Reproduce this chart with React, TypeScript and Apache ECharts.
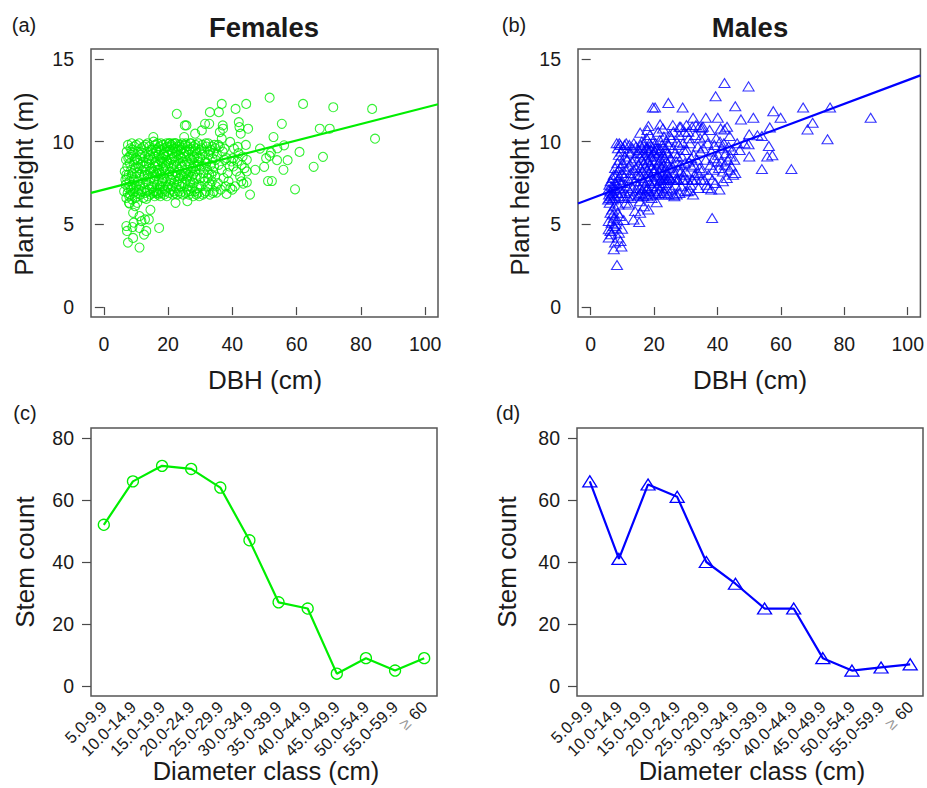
import { useEffect, useRef } from "react";
import * as echarts from "echarts";

const GREEN = "#00ee00";
const BLUE = "#0000ff";
const FONT = '"Liberation Sans", Arial, Helvetica, sans-serif';

const dbhTicks = [0, 20, 40, 60, 80, 100];
const heightTicks = [0, 5, 10, 15];
const countTicks = [0, 20, 40, 60, 80];

const diameterClasses = [
  "5.0-9.9", "10.0-14.9", "15.0-19.9", "20.0-24.9", "25.0-29.9", "30.0-34.9",
  "35.0-39.9", "40.0-44.9", "45.0-49.9", "50.0-54.9", "55.0-59.9", "≥ 60",
];
const femaleCounts = [52, 66, 71, 70, 64, 47, 27, 25, 4, 9, 5, 9];
const maleCounts = [66, 41, 65, 61, 40, 33, 25, 25, 9, 5, 6, 7];

// regression fits: [intercept, slope]
const femaleFit = [7.1, 0.0496];
const maleFit = [6.55, 0.0717];

// Females: DBH (cm), height (m)
const femalePoints: number[][] = [
  // outliers / sparse
  [51.6, 12.66], [62.0, 12.28], [71.4, 12.08], [83.5, 11.98], [84.4, 10.18], [67.2, 10.78], [70.3, 10.78],
  [68.2, 9.08], [65.3, 8.48], [59.5, 7.12], [60.9, 9.38], [55.4, 11.08], [52.8, 10.28], [56.1, 9.78],
  [48.6, 9.58], [51.6, 9.14], [52.0, 9.34], [53.9, 8.88], [57.2, 8.88], [55.9, 8.3], [49.9, 8.48],
  [47.1, 8.3], [51.1, 7.62], [52.3, 7.62], [45.5, 6.8], [50.5, 9.0], [54.0, 9.6],
  [44.3, 12.28], [41.0, 11.98], [36.7, 12.28], [33.0, 11.78], [35.8, 11.78], [22.7, 11.68], [32.8, 11.08],
  [31.5, 11.08], [30.5, 10.68], [28.4, 10.48], [25.7, 10.98], [25.2, 10.98], [25.0, 10.28], [15.4, 10.28],
  [37.0, 10.98], [36.1, 10.58], [37.1, 10.78], [42.0, 11.18], [42.2, 10.88], [44.9, 10.78], [42.6, 10.48],
  [36.7, 10.18], [39.3, 9.98], [37.5, 9.58], [40.5, 9.58], [41.7, 9.68],
  [17.2, 4.78], [11.1, 3.6], [7.5, 3.9], [9.1, 4.18], [7.2, 4.6], [7.0, 4.9], [12.5, 4.38], [13.2, 4.6],
  [11.1, 4.78], [11.7, 5.2], [14.0, 5.3], [12.8, 5.3], [14.5, 5.88], [9.1, 5.7], [8.0, 6.26], [9.7, 6.1],
  [10.4, 6.3], [13.2, 6.54], [9.3, 5.1], [8.9, 4.84], [11.1, 5.5], [22.3, 6.3], [26.0, 6.4], [35.1, 6.92],
  [38.2, 6.84], [43.4, 7.46], [44.5, 7.54], [40.0, 7.1], [42.4, 7.9], [44.5, 8.2], [42.9, 8.6], [44.5, 8.9],
  [40.3, 8.5], [41.6, 8.82],
  // 5-10
  [6.3, 7.0], [6.5, 8.2], [6.8, 7.4], [6.9, 8.9], [7.0, 6.6], [7.1, 9.4], [7.2, 7.8], [7.3, 8.5], [7.4, 6.9],
  [7.5, 9.8], [7.6, 7.2], [7.7, 8.0], [7.8, 6.3], [7.9, 9.1], [8.0, 7.6], [8.1, 8.7], [8.2, 6.8], [8.3, 9.6],
  [8.4, 7.1], [8.5, 8.3], [8.6, 7.9], [8.7, 9.9], [8.8, 6.5], [8.9, 8.1], [9.0, 7.4], [9.1, 9.3], [9.2, 6.9],
  [9.3, 8.6], [9.4, 7.7], [9.5, 9.7], [9.6, 7.0], [9.7, 8.4], [9.8, 6.6], [9.9, 9.0], [7.0, 8.0], [7.6, 9.0],
  [8.2, 7.3], [8.8, 9.5], [9.3, 7.2], [9.6, 8.9], [6.7, 7.7], [7.9, 6.7], [8.5, 9.2],
  // 10-15
  [10.0, 7.3], [10.1, 9.8], [10.2, 8.1], [10.3, 6.7], [10.4, 8.9], [10.5, 7.6], [10.6, 9.4], [10.7, 6.9],
  [10.8, 8.4], [10.9, 7.1], [11.0, 9.9], [11.1, 8.0], [11.2, 7.4], [11.3, 9.0], [11.4, 6.8], [11.5, 8.6],
  [11.6, 7.8], [11.7, 9.6], [11.8, 7.0], [11.9, 8.2], [12.0, 9.3], [12.1, 7.5], [12.2, 8.8], [12.3, 6.6],
  [12.4, 9.7], [12.5, 7.9], [12.6, 8.5], [12.7, 7.2], [12.8, 9.1], [12.9, 6.9], [13.0, 8.3], [13.1, 9.8],
  [13.2, 7.6], [13.3, 8.7], [13.4, 7.0], [13.5, 9.4], [13.6, 8.0], [13.7, 6.7], [13.8, 9.0], [13.9, 7.4],
  [14.0, 8.6], [14.1, 9.7], [14.2, 7.1], [14.3, 8.2], [14.4, 9.2], [14.5, 6.8], [14.6, 7.8], [14.7, 9.5],
  [14.8, 8.4], [14.9, 7.3], [10.5, 8.7], [11.4, 9.2], [12.7, 8.0], [13.6, 9.9], [14.2, 8.9],
  // 15-20
  [15.0, 8.9], [15.1, 7.2], [15.2, 9.6], [15.3, 6.9], [15.4, 8.2], [15.5, 10.0], [15.6, 7.6], [15.7, 9.1],
  [15.8, 6.7], [15.9, 8.5], [16.0, 9.8], [16.1, 7.9], [16.2, 8.8], [16.3, 7.0], [16.4, 9.4], [16.5, 8.1],
  [16.6, 7.4], [16.7, 9.9], [16.8, 6.8], [16.9, 8.6], [17.0, 9.2], [17.1, 7.7], [17.2, 8.3], [17.3, 9.7],
  [17.4, 7.1], [17.5, 8.9], [17.6, 6.7], [17.7, 9.5], [17.8, 8.0], [17.9, 7.5], [18.0, 9.0], [18.1, 6.9],
  [18.2, 8.7], [18.3, 9.8], [18.4, 7.3], [18.5, 8.4], [18.6, 9.3], [18.7, 7.8], [18.8, 6.8], [18.9, 9.6],
  [19.0, 8.2], [19.1, 7.0], [19.2, 9.1], [19.3, 8.6], [19.4, 7.6], [19.5, 9.9], [19.6, 6.7], [19.7, 8.8],
  [19.8, 7.3], [19.9, 9.4], [15.3, 9.3], [15.8, 8.0], [16.4, 6.9], [16.9, 9.6], [17.3, 8.1], [17.8, 9.9],
  [18.2, 7.6], [18.7, 9.2], [19.1, 8.5], [19.6, 9.7], [15.6, 7.0], [16.2, 9.5], [16.8, 8.3], [17.5, 7.3],
  [18.0, 8.8], [18.9, 7.1], [19.4, 8.9], [17.0, 6.9], [16.0, 8.7],
  // 20-25
  [20.0, 9.2], [20.1, 7.4], [20.2, 8.7], [20.3, 9.9], [20.4, 6.9], [20.5, 8.2], [20.6, 9.5], [20.7, 7.7],
  [20.8, 8.9], [20.9, 7.1], [21.0, 9.8], [21.1, 8.4], [21.2, 7.3], [21.3, 9.3], [21.4, 8.0], [21.5, 6.8],
  [21.6, 9.6], [21.7, 8.6], [21.8, 7.5], [21.9, 9.1], [22.0, 8.2], [22.1, 6.9], [22.2, 9.9], [22.3, 7.9],
  [22.4, 8.8], [22.5, 7.2], [22.6, 9.4], [22.7, 8.5], [22.8, 6.8], [22.9, 9.7], [23.0, 7.6], [23.1, 8.9],
  [23.2, 9.2], [23.3, 7.0], [23.4, 8.3], [23.5, 9.8], [23.6, 7.8], [23.7, 8.7], [23.8, 6.9], [23.9, 9.5],
  [24.0, 8.0], [24.1, 7.3], [24.2, 9.0], [24.3, 8.5], [24.4, 9.9], [24.5, 7.5], [24.6, 8.8], [24.7, 6.8],
  [24.8, 9.3], [24.9, 8.1], [20.3, 8.0], [20.8, 9.7], [21.2, 9.0], [21.7, 7.0], [22.1, 9.6], [22.6, 8.1],
  [23.0, 9.5], [23.4, 7.4], [23.9, 9.1], [24.4, 7.9], [21.0, 7.7], [22.4, 9.9], [23.7, 9.7], [24.2, 9.6],
  [20.5, 9.9], [21.5, 9.9],
  // 25-30
  [25.0, 9.1], [25.1, 7.5], [25.2, 8.6], [25.3, 9.8], [25.4, 6.9], [25.5, 8.1], [25.6, 9.4], [25.7, 7.7],
  [25.8, 8.8], [25.9, 7.1], [26.0, 9.7], [26.1, 8.3], [26.2, 7.3], [26.3, 9.2], [26.4, 8.0], [26.5, 6.8],
  [26.6, 9.5], [26.7, 8.6], [26.8, 7.6], [26.9, 9.0], [27.0, 8.2], [27.1, 7.0], [27.2, 9.9], [27.3, 7.9],
  [27.4, 8.9], [27.5, 7.2], [27.6, 9.4], [27.7, 8.4], [27.8, 6.7], [27.9, 9.7], [28.0, 7.5], [28.1, 8.7],
  [28.2, 9.1], [28.3, 7.0], [28.4, 8.2], [28.5, 9.8], [28.6, 7.8], [28.7, 8.5], [28.8, 6.8], [28.9, 9.3],
  [29.0, 8.0], [29.1, 7.2], [29.2, 9.0], [29.3, 8.6], [29.4, 9.9], [29.5, 7.4], [29.6, 8.8], [29.7, 6.7],
  [29.8, 9.5], [29.9, 8.3], [25.5, 9.9], [26.3, 7.0], [27.0, 9.6], [27.8, 8.0], [28.6, 9.6], [29.2, 6.9],
  [26.8, 9.9], [28.0, 9.0], [25.8, 7.9],
  // 30-35
  [30.0, 9.0], [30.2, 7.3], [30.4, 8.5], [30.6, 9.8], [30.8, 6.8], [31.0, 8.1], [31.2, 9.4], [31.4, 7.6],
  [31.6, 8.8], [31.8, 7.0], [32.0, 9.7], [32.2, 8.3], [32.4, 7.3], [32.6, 9.2], [32.8, 8.0], [33.0, 6.8],
  [33.2, 9.5], [33.4, 8.6], [33.6, 7.6], [33.8, 9.0], [34.0, 8.2], [34.2, 7.0], [34.4, 9.8], [34.6, 7.9],
  [34.8, 8.9], [30.1, 7.8], [30.7, 9.2], [31.3, 6.9], [31.9, 8.7], [32.5, 9.9], [33.1, 7.4], [33.7, 9.7],
  [34.3, 8.5], [34.9, 7.3], [30.4, 9.6], [31.1, 8.5], [31.7, 9.9], [32.3, 7.8], [32.9, 9.4], [33.5, 8.0],
  [34.1, 9.3], [34.7, 9.6], [33.9, 6.9],
  // 35-40
  [35.2, 9.2], [35.5, 7.5], [35.8, 8.6], [36.1, 9.7], [36.4, 7.1], [36.7, 8.3], [37.0, 9.4], [37.3, 7.8],
  [37.6, 8.9], [37.9, 7.3], [38.2, 9.0], [38.5, 8.1], [38.8, 7.6], [39.1, 8.5], [39.4, 7.2], [39.7, 8.8],
  [35.6, 9.8],
  // 40-45
  [40.2, 9.0], [40.8, 7.3], [41.3, 8.2], [41.9, 9.3], [42.8, 7.6], [43.2, 9.1], [43.8, 8.4], [44.2, 9.8],
];

// Males: DBH (cm), height (m)
const malePoints: number[][] = [
  // outliers / sparse
  [42.2, 13.54], [49.8, 13.34], [39.4, 12.74], [24.5, 12.34], [20.3, 12.06], [19.6, 12.06], [29.0, 12.06],
  [45.6, 12.14], [67.0, 12.06], [75.5, 12.06], [57.6, 11.84], [59.9, 11.44], [51.3, 11.44], [47.4, 11.34],
  [88.3, 11.44], [70.0, 11.14], [68.4, 10.74], [74.7, 10.14], [56.5, 10.86], [36.3, 11.44], [40.1, 11.44],
  [32.3, 11.44], [21.9, 11.04], [18.2, 10.94], [15.6, 10.54], [35.0, 10.84], [42.2, 10.74], [43.8, 10.34],
  [50.0, 10.44], [52.6, 10.38], [54.0, 10.34], [49.8, 9.84], [56.2, 9.74], [50.0, 9.1], [55.7, 9.1],
  [57.3, 9.18], [54.0, 8.34], [63.3, 8.34], [45.6, 8.1], [41.7, 7.6], [38.0, 7.1], [40.6, 7.1], [32.3, 6.8],
  [31.3, 7.06], [38.3, 5.38], [20.8, 6.34], [18.2, 5.9], [15.6, 5.7], [15.3, 5.14], [13.5, 5.3], [10.4, 5.26],
  [8.3, 2.54], [7.3, 3.5], [9.7, 3.66], [5.7, 4.2], [6.25, 4.6], [8.9, 4.5], [9.9, 4.74], [7.3, 4.9],
  [5.7, 5.2], [7.3, 5.4], [6.25, 5.7], [6.8, 5.9], [7.5, 6.1], [8.3, 5.3], [8.5, 5.7], [9.4, 4.0], [5.7, 4.7],
  [46.2, 9.9], [48.5, 9.9], [47.0, 9.5], [45.3, 8.9],
  // 5-10
  [6.5, 4.4], [7.8, 4.8], [8.0, 5.0], [7.0, 5.6], [8.7, 6.2], [6.0, 6.3], [7.7, 3.9], [8.6, 4.2], [9.2, 5.5],
  [6.6, 5.1], [5.5, 6.5], [5.6, 7.1], [5.8, 6.8], [5.9, 7.4], [6.0, 6.6], [6.2, 7.0], [6.3, 7.6], [6.5, 6.7],
  [6.6, 7.3], [6.8, 6.9], [6.9, 7.8], [7.0, 6.5], [7.1, 7.2], [7.3, 8.0], [7.4, 6.8], [7.6, 7.5], [7.7, 8.4],
  [7.9, 6.6], [8.0, 7.1], [8.1, 8.0], [8.2, 9.9], [8.3, 7.4], [8.4, 8.7], [8.5, 6.9], [8.6, 9.6], [8.7, 7.7],
  [8.8, 8.3], [8.9, 9.2], [9.0, 6.7], [9.1, 7.9], [9.2, 8.9], [9.3, 7.2], [9.4, 9.8], [9.5, 8.5], [9.6, 7.5],
  [9.7, 9.4], [9.8, 8.1], [9.9, 6.9], [9.0, 9.9],
  // 10-15
  [10.0, 7.5], [10.2, 8.7], [10.3, 9.6], [10.5, 6.6], [10.6, 7.9], [10.8, 9.1], [10.9, 6.9], [11.0, 8.3],
  [11.2, 9.9], [11.3, 7.3], [11.5, 8.9], [11.6, 6.7], [11.8, 9.4], [11.9, 7.7], [12.0, 8.5], [12.2, 9.8],
  [12.3, 7.0], [12.5, 8.1], [12.6, 9.3], [12.8, 6.6], [12.9, 7.8], [13.0, 8.8], [13.2, 9.6], [13.3, 7.2],
  [13.5, 8.3], [13.6, 9.9], [13.8, 6.8], [13.9, 7.6], [14.0, 9.0], [14.2, 8.4], [14.3, 9.7], [14.5, 7.1],
  [14.6, 8.0], [14.8, 9.3], [14.9, 6.7], [11.0, 6.3], [12.0, 6.2], [14.0, 5.8], [10.7, 9.8],
  // 15-20
  [15.0, 7.4], [15.1, 8.6], [15.2, 9.5], [15.3, 6.8], [15.4, 8.0], [15.5, 9.1], [15.6, 7.2], [15.7, 8.4],
  [15.8, 9.8], [15.9, 6.9], [16.0, 7.8], [16.1, 8.9], [16.2, 9.6], [16.3, 7.1], [16.4, 8.2], [16.5, 9.3],
  [16.6, 6.7], [16.7, 7.6], [16.8, 8.7], [16.9, 9.9], [17.0, 7.3], [17.1, 8.5], [17.2, 9.2], [17.3, 6.8],
  [17.4, 7.9], [17.5, 8.9], [17.6, 10.2], [17.7, 7.1], [17.8, 8.3], [17.9, 9.6], [18.0, 6.7], [18.1, 7.7],
  [18.2, 8.8], [18.3, 9.4], [18.4, 7.0], [18.5, 8.1], [18.6, 9.9], [18.7, 7.5], [18.8, 8.6], [18.9, 9.1],
  [19.0, 6.8], [19.1, 7.9], [19.2, 8.4], [19.3, 9.7], [19.4, 7.3], [19.5, 8.9], [19.6, 10.0], [19.7, 7.6],
  [19.8, 8.2], [19.9, 9.3], [15.5, 6.4], [16.8, 6.1], [17.9, 10.7], [18.7, 10.4], [19.2, 6.6], [16.1, 10.0],
  [17.4, 9.6], [19.0, 9.5], [18.0, 7.2],
  // 20-25
  [20.0, 7.0], [20.1, 8.3], [20.2, 9.4], [20.3, 7.6], [20.4, 8.8], [20.5, 9.9], [20.6, 6.8], [20.7, 7.9],
  [20.8, 9.1], [20.9, 8.4], [21.0, 7.3], [21.1, 9.6], [21.2, 8.0], [21.3, 6.9], [21.4, 8.7], [21.5, 9.3],
  [21.6, 7.5], [21.7, 8.2], [21.8, 10.1], [21.9, 7.1], [22.0, 8.9], [22.1, 9.5], [22.2, 7.7], [22.3, 8.5],
  [22.4, 6.8], [22.5, 9.8], [22.6, 7.4], [22.7, 8.1], [22.8, 9.2], [22.9, 7.0], [23.0, 8.6], [23.1, 10.3],
  [23.2, 7.8], [23.3, 9.0], [23.4, 6.9], [23.5, 8.3], [23.6, 9.6], [23.7, 7.5], [23.8, 8.8], [23.9, 10.0],
  [24.0, 7.2], [24.1, 8.0], [24.2, 9.3], [24.3, 7.7], [24.4, 8.7], [24.5, 6.8], [24.6, 9.8], [24.7, 7.9],
  [24.8, 8.4], [24.9, 10.4], [21.3, 10.6], [22.0, 7.7], [23.0, 7.7], [24.0, 7.7], [20.5, 9.6], [22.8, 10.8],
  [23.8, 9.4],
  // 25-30
  [25.0, 7.8], [25.2, 9.0], [25.4, 10.2], [25.6, 7.1], [25.8, 8.5], [26.0, 9.6], [26.2, 6.8], [26.4, 8.1],
  [26.6, 9.3], [26.8, 7.4], [27.0, 8.8], [27.2, 10.0], [27.4, 7.7], [27.6, 8.3], [27.8, 9.8], [28.0, 6.9],
  [28.2, 8.6], [28.4, 10.9], [28.6, 7.3], [28.8, 9.1], [29.0, 7.7], [29.2, 8.0], [29.4, 9.5], [29.6, 10.6],
  [29.8, 7.0], [25.5, 7.7], [26.1, 10.6], [26.7, 7.7], [27.3, 9.1], [27.9, 10.4], [28.5, 8.2], [29.1, 9.9],
  [29.7, 8.7], [26.4, 6.7], [27.1, 6.8], [25.9, 11.0], [28.0, 10.9], [27.5, 7.7], [29.3, 7.7],
  // 30-35
  [30.0, 8.2], [30.3, 9.5], [30.5, 7.7], [30.8, 10.6], [31.0, 8.8], [31.3, 9.9], [31.5, 7.4], [31.8, 8.5],
  [32.0, 10.9], [32.2, 7.7], [32.5, 9.2], [32.8, 8.0], [33.0, 10.4], [33.3, 7.7], [33.5, 8.9], [33.8, 9.7],
  [34.0, 7.2], [34.3, 8.4], [34.5, 10.2], [34.8, 7.7], [30.2, 11.0], [31.0, 10.2], [31.7, 9.0], [32.6, 8.6],
  [33.2, 11.0], [33.9, 8.1], [34.6, 9.4], [30.6, 7.0], [32.0, 7.7], [34.2, 10.9],
  // 35-40
  [35.2, 8.3], [35.5, 9.6], [35.8, 7.7], [36.0, 10.3], [36.3, 8.9], [36.6, 7.4], [36.9, 9.9], [37.2, 8.0],
  [37.5, 10.7], [37.8, 8.6], [38.1, 9.4], [38.4, 7.7], [38.7, 8.3], [39.0, 9.8], [39.3, 7.5], [39.6, 10.2],
  [39.9, 8.8], [35.4, 10.9], [37.0, 7.2], [38.8, 9.0],
  // 40-45
  [40.2, 9.2], [40.5, 8.4], [40.8, 10.0], [41.1, 8.8], [41.4, 9.6], [41.7, 8.2], [42.0, 9.9], [42.3, 8.6],
  [42.6, 9.3], [42.9, 7.8], [43.2, 8.9], [43.5, 9.7], [43.8, 8.3], [44.1, 9.1], [44.4, 8.5], [44.7, 9.5],
  [44.9, 8.0], [41.0, 10.8], [43.0, 10.9],
];

const DBH_MIN = -4;
const DBH_MAX = 104;

function fitLine(fit: number[]) {
  return [DBH_MIN, DBH_MAX].map((x) => [x, fit[0] + fit[1] * x]);
}

const TEXT = "#1a1a1a";
const AXIS = "#4a4a4a";
const TICK_FONT = 19.5;
const NAME_FONT = 26;

function gridBox(left: number, top: number, width: number, height: number) {
  return { left, top, width, height, show: true, borderColor: "#555", borderWidth: 1.5, backgroundColor: "transparent" };
}

function dbhAxis(gridIndex: number) {
  return {
    type: "value", gridIndex, min: DBH_MIN, max: DBH_MAX, offset: 2,
    axisLine: { show: false }, splitLine: { show: false },
    axisTick: { show: true, length: 8, customValues: dbhTicks, lineStyle: { color: AXIS, width: 1.2 } },
    axisLabel: { customValues: dbhTicks, margin: 15, fontSize: TICK_FONT, color: TEXT, fontFamily: FONT },
  };
}
function heightAxis(gridIndex: number) {
  return {
    type: "value", gridIndex, min: -0.6, max: 15.6,
    axisLine: { show: false }, splitLine: { show: false },
    axisTick: { show: true, length: 9, customValues: heightTicks, lineStyle: { color: AXIS, width: 1.2 } },
    axisLabel: { customValues: heightTicks, margin: 17, fontSize: TICK_FONT, color: TEXT, fontFamily: FONT },
  };
}
function classAxis(gridIndex: number) {
  const vals = diameterClasses.map((_, i) => i + 1);
  return {
    type: "value", gridIndex, min: 0.56, max: 12.44,
    axisLine: { show: false }, splitLine: { show: false },
    axisTick: { show: false },
    axisLabel: {
      customValues: vals, rotate: 45, margin: 8, fontSize: 16.5, color: TEXT, fontFamily: FONT,
      formatter: (v: number) => {
        const s = diameterClasses[Math.round(v) - 1] || "";
        return s.startsWith("≥") ? "{g|≥}" + s.slice(1) : s;
      },
      rich: { g: { color: "#999", fontSize: 16.5, fontFamily: FONT } },
    },
  };
}
function countAxis(gridIndex: number) {
  return {
    type: "value", gridIndex, min: -3.2, max: 83.2,
    axisLine: { show: false }, splitLine: { show: false },
    axisTick: { show: true, length: 9, customValues: countTicks, lineStyle: { color: AXIS, width: 1.2 } },
    axisLabel: { customValues: countTicks, margin: 17, fontSize: TICK_FONT, color: TEXT, fontFamily: FONT },
  };
}

function label(text: string, x: number, y: number, size: number, bold = false, rotate = 0) {
  return {
    type: "text", x, y, rotation: rotate,
    style: {
      text, fill: TEXT, font: `${bold ? "bold " : ""}${size}px ${FONT}`,
      align: "center", verticalAlign: "middle", textAlign: "center", textVerticalAlign: "middle",
    },
  };
}

const option = {
  animation: false,
  backgroundColor: "#fff",
  grid: [
    gridBox(91, 49, 347, 268),
    gridBox(578, 49, 345, 268),
    gridBox(91, 428, 346, 268),
    gridBox(577, 428, 346, 268),
  ],
  xAxis: [dbhAxis(0), dbhAxis(1), classAxis(2), classAxis(3)],
  yAxis: [heightAxis(0), heightAxis(1), countAxis(2), countAxis(3)],
  series: [
    {
      type: "scatter", xAxisIndex: 0, yAxisIndex: 0, data: femalePoints, symbol: "circle", symbolSize: 9,
      itemStyle: { color: "rgba(0,0,0,0)", borderColor: GREEN, borderWidth: 1.1 },
    },
    {
      type: "line", xAxisIndex: 0, yAxisIndex: 0, data: fitLine(femaleFit), showSymbol: false, clip: true,
      lineStyle: { color: GREEN, width: 2.2 },
    },
    {
      type: "scatter", xAxisIndex: 1, yAxisIndex: 1, data: malePoints, symbol: "triangle", symbolSize: [11, 9],
      itemStyle: { color: "rgba(0,0,0,0)", borderColor: BLUE, borderWidth: 1.1 },
    },
    {
      type: "line", xAxisIndex: 1, yAxisIndex: 1, data: fitLine(maleFit), showSymbol: false, clip: true,
      lineStyle: { color: BLUE, width: 2.2 },
    },
    {
      type: "line", xAxisIndex: 2, yAxisIndex: 2, data: femaleCounts.map((v, i) => [i + 1, v]),
      symbol: "circle", symbolSize: 11, showAllSymbol: true,
      lineStyle: { color: GREEN, width: 2.2 },
      itemStyle: { color: "rgba(0,0,0,0)", borderColor: GREEN, borderWidth: 1.3 },
    },
    {
      type: "line", xAxisIndex: 3, yAxisIndex: 3, data: maleCounts.map((v, i) => [i + 1, v]),
      symbol: "triangle", symbolSize: [14, 11], showAllSymbol: true,
      lineStyle: { color: BLUE, width: 2.2 },
      itemStyle: { color: "rgba(0,0,0,0)", borderColor: BLUE, borderWidth: 1.3 },
    },
  ],
  graphic: [
    label("(a)", 24, 25, 20),
    label("Females", 264, 27, 27.5, true),
    label("(b)", 514, 25, 20),
    label("Males", 750, 27, 27.5, true),
    label("Plant height (m)", 24, 184, NAME_FONT, false, Math.PI / 2),
    label("Plant height (m)", 520, 184, NAME_FONT, false, Math.PI / 2),
    label("DBH (cm)", 265, 380, NAME_FONT),
    label("DBH (cm)", 750, 380, NAME_FONT),
    label("(c)", 25, 413, 20),
    label("(d)", 508, 413, 20),
    label("Stem count", 25, 562, NAME_FONT, false, Math.PI / 2),
    label("Stem count", 507, 562, NAME_FONT, false, Math.PI / 2),
    label("Diameter class (cm)", 266, 771, 25.5),
    label("Diameter class (cm)", 752, 771, 25.5),
  ],
};

export default function App() {
  const ref = useRef<HTMLDivElement>(null);
  useEffect(() => {
    const chart = echarts.init(ref.current!, null, { renderer: "svg" });
    chart.setOption(option as any);
    return () => chart.dispose();
  }, []);
  return (
    <div
      ref={ref}
      style={{ position: "absolute", left: 0, top: 0, width: 927, height: 788, background: "#fff" }}
    />
  );
}
